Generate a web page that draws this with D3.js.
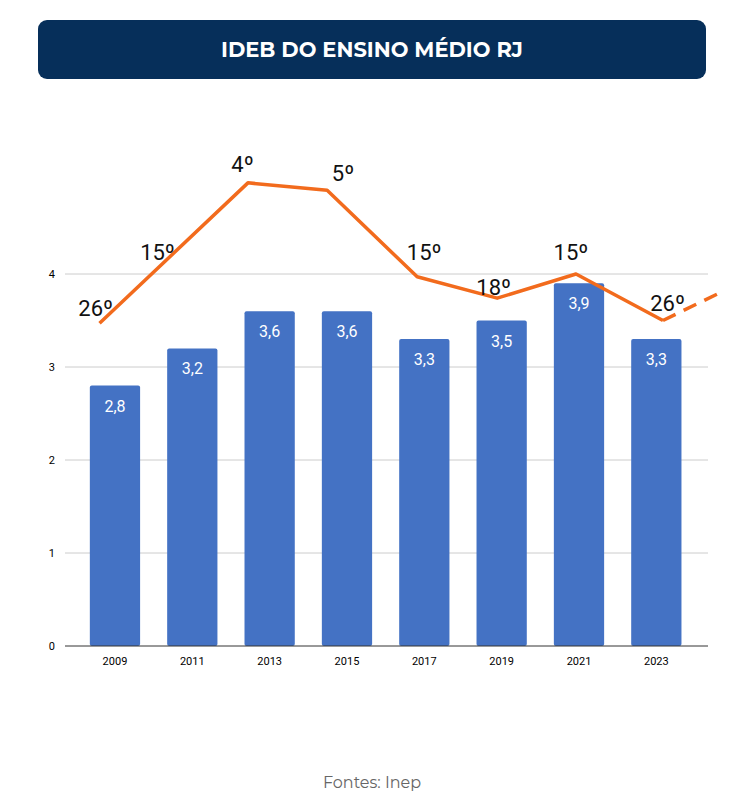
<!DOCTYPE html>
<html><head><meta charset="utf-8">
<script src="https://cdn.jsdelivr.net/npm/d3@7"></script>
<style>body{margin:0;background:#fff}svg{display:block}</style>
</head><body>
<svg id="c" width="755" height="792"></svg>
<script>
const years = ["2009","2011","2013","2015","2017","2019","2021","2023"];
const ideb = [2.8,3.2,3.6,3.6,3.3,3.5,3.9,3.3];
const yTicks = [0,1,2,3,4];
// ranking line (x in fractional years, y in chart units)
const rankX = [2008.6,2012.44,2014.49,2016.82,2018.89,2020.93,2023.18];
const rankY = [3.47,4.98,4.90,3.97,3.74,4.0,3.5];
const rankDashX = [2023.18,2024.76];
const rankDashY = [3.5,3.82];
const rankLabels = ["26º","15º","4º","5º","15º","18º","15º","26º"];
const rankLabelX = [2008.5,2010.1,2012.3,2014.9,2017.0,2018.8,2020.8,2023.3];
const rankLabelY = [3.55,4.15,5.1,5.0,4.15,3.77,4.15,3.6];

const svg = d3.select("#c");
svg.append("rect").attr("x",38).attr("y",20).attr("width",668).attr("height",59).attr("rx",9).attr("fill","#062f5a");
svg.append("text").attr("x",372).attr("y",57).attr("text-anchor","middle").attr("fill","#fff")
  .attr("font-family","Montserrat, Poppins, 'Open Sans', sans-serif").attr("font-weight",700).attr("font-size",21).text("IDEB DO ENSINO MÉDIO RJ");

const y = d3.scaleLinear().domain([0,4]).range([646,274]);
const x = d3.scaleBand().domain(years).range([76.3,695]).paddingInner(0.35).paddingOuter(0.175);
const xl = d3.scaleLinear().domain([2009,2023]).range([115,656]);

svg.append("g").selectAll("line").data(yTicks.slice(1)).join("line")
  .attr("x1",65).attr("x2",708).attr("y1",d=>y(d)).attr("y2",d=>y(d)).attr("stroke","#ccc");
svg.append("g").selectAll("text").data(yTicks).join("text")
  .attr("x",55).attr("y",d=>y(d)+4).attr("text-anchor","end").attr("font-family","Roboto, sans-serif").attr("font-size",11).text(d=>d);

svg.append("g").selectAll("rect").data(ideb).join("rect")
  .attr("x",(d,i)=>x(years[i])).attr("width",x.bandwidth()).attr("y",d=>y(d)).attr("height",d=>646-y(d))
  .attr("fill","#4472c4").attr("rx",2);
svg.append("g").selectAll("text").data(ideb).join("text")
  .attr("x",(d,i)=>x(years[i])+x.bandwidth()/2).attr("y",d=>y(d)+26).attr("text-anchor","middle")
  .attr("fill","#fff").attr("font-family","Roboto, sans-serif").attr("font-size",16).text(d=>String(d).replace(".",","));

svg.append("line").attr("x1",65).attr("x2",708).attr("y1",646).attr("y2",646).attr("stroke","#333");
svg.append("g").selectAll("text").data(years).join("text")
  .attr("x",d=>x(d)+x.bandwidth()/2).attr("y",665).attr("text-anchor","middle")
  .attr("font-family","Roboto, sans-serif").attr("font-size",11).text(d=>d);

const line = d3.line().x(d=>xl(d[0])).y(d=>y(d[1]));
svg.append("path").attr("d",line(rankX.map((v,i)=>[v,rankY[i]]))).attr("fill","none").attr("stroke","#f26b1d").attr("stroke-width",3.5).attr("stroke-linejoin","round");
svg.append("path").attr("d",line(rankDashX.map((v,i)=>[v,rankDashY[i]]))).attr("fill","none").attr("stroke","#f26b1d").attr("stroke-width",3.5).attr("stroke-dasharray","14,9");

svg.append("g").selectAll("text").data(rankLabels).join("text")
  .attr("x",(d,i)=>xl(rankLabelX[i])).attr("y",(d,i)=>y(rankLabelY[i])).attr("text-anchor","middle")
  .attr("font-family","Roboto, 'Open Sans', sans-serif").attr("font-size",22).attr("fill","#111").text(d=>d);

svg.append("text").attr("x",372).attr("y",788).attr("text-anchor","middle").attr("fill","#666")
  .attr("font-family","Montserrat, Poppins, 'Open Sans', sans-serif").attr("font-size",16).text("Fontes: Inep");
</script>
</body></html>
